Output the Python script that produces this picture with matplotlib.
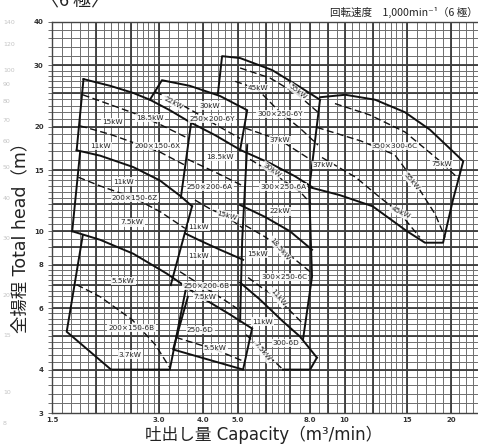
import numpy as np
import matplotlib.pyplot as plt

plt.rcParams['font.family'] = ['DejaVu Sans']
CJK = ['Noto Sans CJK JP', 'DejaVu Sans']
MIXED = ['DejaVu Sans', 'Noto Sans CJK JP']

# ---- solid tile boundaries (Q m3/min, H m) ----
curve_a_q = [1.84, 2.19, 2.54, 2.83, 3.22, 3.67, 4.32, 5.11, 6.17, 7.25, 8.10]
curve_a_h = [27.4, 26.2, 25.0, 23.9, 22.3, 20.6, 18.9, 17.1, 15.7, 14.4, 13.4]
edge_6x_q = [1.84, 1.76]
edge_6x_h = [27.4, 17.1]
curve_x_q = [1.76, 2.05, 2.54, 3.02, 3.46, 3.72]
curve_x_h = [17.1, 16.5, 15.3, 14.0, 12.6, 11.8]
edge_6x_r_q = [3.70, 3.46]
edge_6x_r_h = [20.6, 12.5]
edge_6z_q = [1.80, 1.71]
edge_6z_h = [16.9, 10.0]
edge_6b250_q = [3.72, 3.24]
edge_6b250_h = [11.8, 7.0]
curve_b_q = [1.71, 2.05, 2.54, 3.16, 3.92, 4.76, 5.49]
curve_b_h = [10.0, 9.45, 8.62, 7.55, 6.49, 5.76, 5.25]
tile_6b200_q = [1.83, 1.65, 2.20, 3.22, 3.57]
tile_6b200_h = [9.7, 5.14, 4.0, 4.0, 6.79]
tile_6y250_q = [2.83, 3.06, 3.67, 4.46, 5.32, 5.08]
tile_6y250_h = [23.9, 27.2, 26.2, 24.5, 22.3, 17.1]
tile_6y300_q = [4.40, 4.52, 5.08, 6.25, 7.49, 8.53]
tile_6y300_h = [24.9, 31.9, 31.5, 29.1, 26.0, 23.9]
edge_col3_q = [8.53, 7.95, 8.10, 7.64]
edge_col3_h = [23.9, 13.2, 7.40, 4.88]
tile_6c350_q = [8.53, 10.05, 12.2, 14.8, 17.4, 19.8, 21.6, 20.2, 18.95, 16.85, 15.0, 12.0, 9.71, 7.95]
tile_6c350_h = [24.3, 24.7, 23.9, 22.0, 19.6, 17.3, 15.9, 12.3, 9.27, 9.27, 10.0, 11.8, 12.7, 13.4]
edge_col2_q = [5.32, 5.15, 5.08]
edge_col2_h = [17.7, 9.45, 5.5]
curve_x2_q = [3.57, 3.92, 4.46, 5.18]
curve_x2_h = [9.84, 9.4, 8.85, 8.28]
curve_c_q = [5.08, 5.97, 7.02, 8.10]
curve_c_h = [11.9, 11.0, 10.0, 8.85]
curve_d_q = [5.08, 5.78, 6.71, 7.49, 8.36]
curve_d_h = [7.12, 6.36, 5.5, 4.98, 4.33]
tile_6d250_q = [3.62, 3.29, 5.18, 5.49]
tile_6d250_h = [6.48, 4.57, 4.0, 5.25]
tile_6d300_q = [6.71, 8.0, 8.36]
tile_6d300_h = [4.0, 4.0, 4.33]

# ---- dashed motor-power boundaries ----
dash_6x1_q = [1.83, 2.05, 2.54, 3.02, 3.63]
dash_6x1_h = [24.7, 23.7, 21.9, 20.3, 18.5]
dash_6x2_q = [1.80, 2.19, 2.54, 3.02, 3.55]
dash_6x2_h = [20.1, 19.0, 18.0, 16.9, 15.5]
dash_6z_q = [1.78, 2.05, 2.54, 3.02, 3.55]
dash_6z_h = [14.3, 13.5, 12.5, 11.4, 10.2]
dash_6b200_q = [1.76, 2.05, 2.52, 2.93, 3.22]
dash_6b200_h = [7.02, 6.48, 5.57, 4.72, 4.05]
dash_6y250_q = [2.93, 3.33, 3.79, 4.32, 5.08]
dash_6y250_h = [25.2, 23.7, 22.0, 20.3, 18.5]
dash_6a1_q = [3.62, 4.32, 5.18]
dash_6a1_h = [16.1, 14.8, 13.5]
dash_6a2_q = [3.79, 4.18, 4.67, 5.18]
dash_6a2_h = [12.3, 11.6, 11.0, 10.2]
dash_6b250_q = [3.44, 4.05, 4.76, 5.11]
dash_6b250_h = [7.65, 6.88, 6.19, 5.88]
dash_6d250_q = [3.35, 4.32, 5.25]
dash_6d250_h = [4.95, 4.57, 4.21]
dash_6y300a_q = [5.08, 6.17, 7.39, 8.42]
dash_6y300a_h = [29.5, 27.6, 24.7, 22.0]
dash_6y300b_q = [4.92, 5.67, 6.58, 7.49, 8.42]
dash_6y300b_h = [27.0, 25.7, 22.0, 19.8, 17.7]
dash_6y300c_q = [5.25, 6.58, 8.0]
dash_6y300c_h = [19.8, 18.3, 16.1]
dash_6a300_q = [5.42, 6.21, 7.49, 8.05]
dash_6a300_h = [16.1, 14.8, 13.0, 12.0]
dash_6c300a_q = [5.25, 5.97, 6.71, 8.0]
dash_6c300a_h = [10.4, 9.64, 8.85, 7.65]
dash_6c300b_q = [5.35, 5.85, 6.45, 7.59]
dash_6c300b_h = [7.36, 6.88, 6.44, 5.46]
dash_6d300_q = [5.28, 5.85, 6.71]
dash_6d300_h = [5.04, 4.57, 4.0]
dash_6c350a_q = [9.40, 11.8, 14.8, 18.6, 20.9]
dash_6c350a_h = [23.3, 21.6, 19.3, 15.9, 14.2]
dash_6c350b_q = [8.36, 11.1, 13.85, 15.6, 18.0, 19.2]
dash_6c350b_h = [19.9, 18.2, 16.6, 14.1, 11.2, 9.6]
dash_6c350c_q = [8.64, 10.75, 12.6, 14.3, 16.3]
dash_6c350c_h = [16.3, 14.3, 12.5, 11.3, 9.6]

# ---- labels ----
label_text = ['15kW', '18.5kW', '11kW', '200×150-6X', '22kW', '30kW', '250×200-6Y',
              '18.5kW', '250×200-6A', '15kW', '11kW', '11kW', '200×150-6Z', '7.5kW',
              '5.5kW', '200×150-6B', '3.7kW', '11kW', '250×200-6B', '7.5kW', '250-6D',
              '5.5kW', '45kW', '55kW', '300×250-6Y', '37kW', '30kW', '300×250-6A',
              '22kW', '18.5kW', '15kW', '300×250-6C', '11kW', '11kW', '300-6D', '7.5kW',
              '37kW', '350×300-6C', '75kW', '55kW', '45kW']
label_q = [2.22, 2.83, 2.05, 2.97, 3.29, 4.16, 4.24,
           4.46, 4.18, 4.67, 3.89, 2.38, 2.57, 2.52,
           2.38, 2.51, 2.49, 3.89, 4.08, 4.05, 3.92,
           4.32, 5.71, 7.39, 6.58, 6.58, 6.25, 6.71,
           6.58, 6.58, 5.67, 6.76, 6.50, 5.86, 6.85, 5.86,
           8.7, 13.85, 18.8, 15.5, 14.4]
label_h = [20.6, 21.2, 17.6, 17.6, 23.4, 23.0, 21.0,
           16.4, 13.4, 11.1, 10.3, 13.9, 12.5, 10.6,
           7.2, 5.28, 4.42, 8.5, 6.95, 6.49, 5.21,
           4.6, 25.9, 25.2, 21.7, 18.3, 15.0, 13.4,
           11.4, 8.9, 8.6, 7.40, 6.45, 5.5, 4.78, 4.5,
           15.5, 17.6, 15.6, 13.9, 11.3]
label_rot = [0, 0, 0, 0, -28, 0, 0,
             0, 0, -15, 0, 0, 0, 0,
             0, 0, 0, 0, 0, 0, 0,
             0, 0, -38, 0, 0, -35, 0,
             0, -50, 0, 0, -50, 0, 0, -50,
             0, 0, 0, -50, -25]

# axis ticks
x_ticks = [1.5, 3.0, 4.0, 5.0, 8.0, 10, 15, 20, 25]
x_tick_labels = ['1.5', '3.0', '4.0', '5.0', '8.0', '10', '15', '20', '25']
y_ticks = [3, 4, 6, 8, 10, 15, 20, 30, 40]

# faint numbers showing through from the facing page
ghost_vals = [140, 120, 100, 90, 80, 70, 60, 50, 40, 30, 20, 15, 10, 8]

solid = [(curve_a_q, curve_a_h), (edge_6x_q, edge_6x_h), (curve_x_q, curve_x_h),
         (edge_6x_r_q, edge_6x_r_h), (edge_6z_q, edge_6z_h), (edge_6b250_q, edge_6b250_h),
         (curve_b_q, curve_b_h), (tile_6b200_q, tile_6b200_h), (tile_6y250_q, tile_6y250_h),
         (tile_6y300_q, tile_6y300_h), (edge_col3_q, edge_col3_h), (tile_6c350_q, tile_6c350_h),
         (edge_col2_q, edge_col2_h), (curve_x2_q, curve_x2_h), (curve_c_q, curve_c_h),
         (curve_d_q, curve_d_h), (tile_6d250_q, tile_6d250_h), (tile_6d300_q, tile_6d300_h)]
dashed = [(dash_6x1_q, dash_6x1_h), (dash_6x2_q, dash_6x2_h), (dash_6z_q, dash_6z_h),
          (dash_6b200_q, dash_6b200_h), (dash_6y250_q, dash_6y250_h), (dash_6a1_q, dash_6a1_h),
          (dash_6a2_q, dash_6a2_h), (dash_6b250_q, dash_6b250_h), (dash_6d250_q, dash_6d250_h),
          (dash_6y300a_q, dash_6y300a_h), (dash_6y300b_q, dash_6y300b_h),
          (dash_6y300c_q, dash_6y300c_h), (dash_6a300_q, dash_6a300_h),
          (dash_6c300a_q, dash_6c300a_h), (dash_6c300b_q, dash_6c300b_h),
          (dash_6d300_q, dash_6d300_h), (dash_6c350a_q, dash_6c350a_h),
          (dash_6c350b_q, dash_6c350b_h), (dash_6c350c_q, dash_6c350c_h)]

fig = plt.figure(figsize=(4.78, 4.48), dpi=100)
ax = fig.add_axes([0.1088, 0.0781, 0.9075, 0.8728])
ax.set_xscale('log')
ax.set_yscale('log')
ax.set_xlim(1.5, 25)
ax.set_ylim(3, 40)

# log graph paper
xgrid = np.concatenate([np.arange(1.5, 3.0, 0.1), np.arange(3.0, 5.0, 0.2),
                        np.arange(5.0, 7.0, 0.25), np.arange(7.0, 15.0, 0.5),
                        np.arange(15, 26, 1)])
ygrid = np.concatenate([np.arange(3.0, 6.0, 0.2), np.arange(6.0, 8.0, 0.25),
                        np.arange(8.0, 15.0, 0.5), np.arange(15, 30, 1),
                        np.arange(30, 41, 2)])
xthick = [2, 2.5, 3, 4, 5, 6, 7, 8, 9, 10, 12, 15, 20]
ythick = [4, 5, 6, 7, 8, 9, 10, 12, 15, 20, 25, 30]
ax.vlines(xgrid, 3, 40, color='#6e6e6e', lw=0.7, zorder=0)
ax.hlines(ygrid, 1.5, 25, color='#6e6e6e', lw=0.7, zorder=0)
ax.vlines(xthick, 3, 40, color='#3c3c3c', lw=1.3, zorder=0)
ax.hlines(ythick, 1.5, 25, color='#3c3c3c', lw=1.3, zorder=0)

for q, h in solid:
    ax.plot(q, h, color='#111111', lw=1.4, solid_joinstyle='round', zorder=3)
for q, h in dashed:
    ax.plot(q, h, color='#111111', lw=1.0, dashes=(5, 2.5), zorder=3)

for t, q, h, r in zip(label_text, label_q, label_h, label_rot):
    ax.text(q, h, t, fontsize=5.2, color='#222222', rotation=r, ha='center', va='center',
            rotation_mode='anchor', zorder=4,
            bbox=dict(boxstyle='square,pad=0.15', fc='white', ec='none', alpha=0.85))

for s in ax.spines.values():
    s.set_color('#444444')
    s.set_linewidth(1.0)
ax.set_xticks(x_ticks)
ax.set_xticklabels(x_tick_labels)
ax.set_xticks([], minor=True)
ax.set_yticks(y_ticks)
ax.set_yticklabels([str(v) for v in y_ticks])
ax.set_yticks(ygrid, minor=True)
ax.yaxis.set_minor_formatter(plt.NullFormatter())
ax.tick_params(axis='x', which='both', length=0, pad=3, labelsize=5, labelcolor='#333333')
ax.tick_params(axis='y', which='both', length=3, width=0.6, color='#555555', pad=3,
               labelsize=5, labelcolor='#333333')
for lab in ax.get_xticklabels() + ax.get_yticklabels():
    lab.set_fontweight('bold')

fig.text(0.042, 0.478, '全揚程 Total head（m）', rotation=90, ha='center', va='center',
         fontsize=12.5, family=MIXED, color='#222222')
fig.text(0.552, 0.03, '吐出し量 Capacity（m³/min）', ha='center', va='center',
         fontsize=12, family=MIXED, color='#222222')
fig.text(0.69, 0.972, '回転速度　1,000min⁻¹（6 極）', ha='left', va='center',
         fontsize=7.6, family=CJK, color='#222222')
fig.text(0.157, 1.0, '〈6 極〉', ha='center', va='center', fontsize=13,
         family=CJK, color='#222222')

ghost = fig.add_axes([0.0, 0.0536, 0.05, 0.8951])
ghost.set_yscale('log')
ghost.set_ylim(8, 140)
ghost.set_xlim(0, 1)
ghost.axis('off')
for v in ghost_vals:
    ghost.text(0.12, v, str(v), fontsize=4.5, color='#c4c4c4', va='center')

fig.savefig('out.png', dpi=100)
